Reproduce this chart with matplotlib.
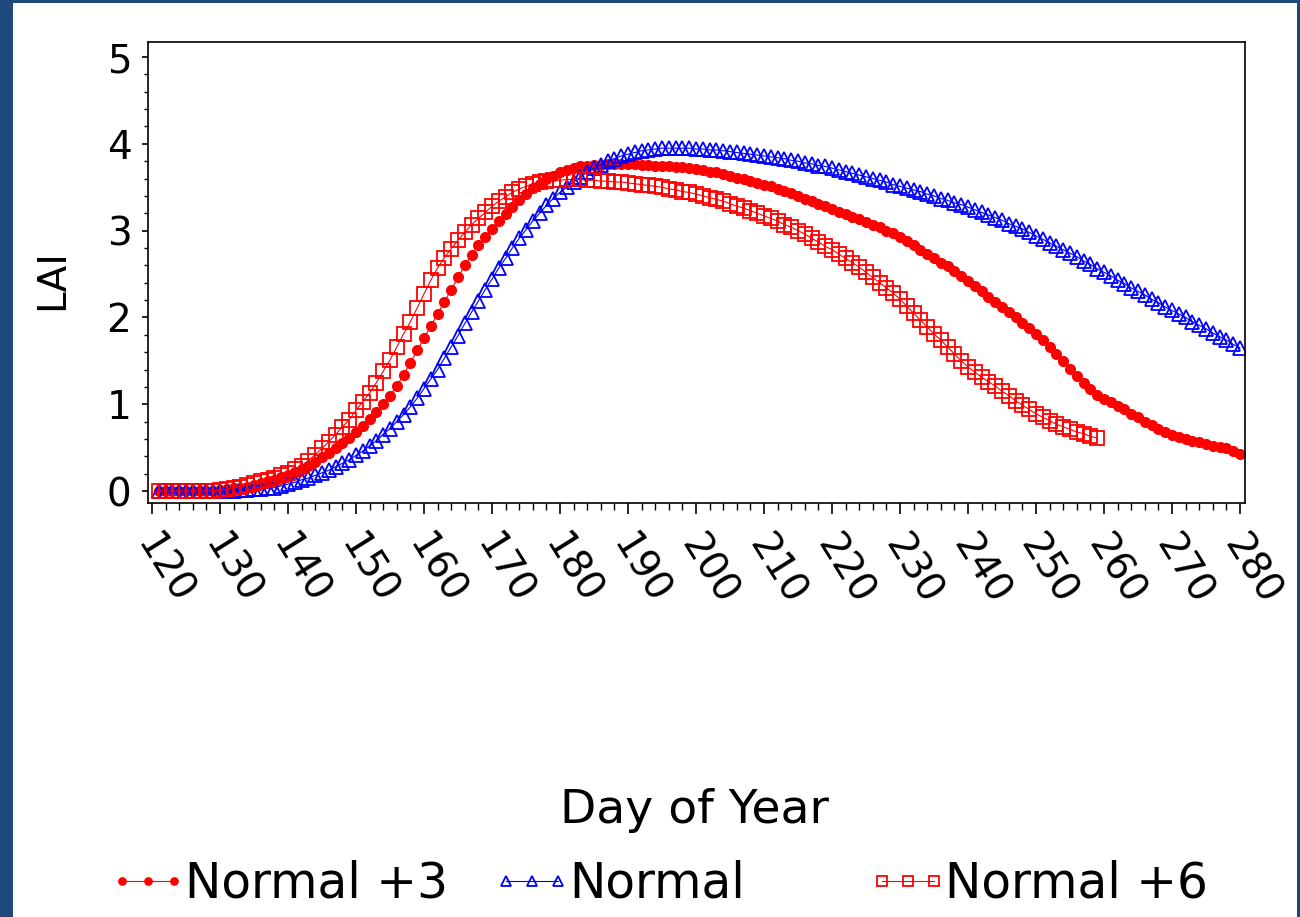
import numpy as np
import matplotlib
matplotlib.use("Agg")
import matplotlib.pyplot as plt
from matplotlib.patches import Rectangle
from matplotlib.ticker import MultipleLocator
from matplotlib.transforms import ScaledTranslation

# LAI by day of year (one value per day)
days_p3 = np.arange(121, 281)
lai_p3 = [
    0.00, 0.00, 0.00, 0.00, 0.00, 0.00, 0.00, 0.00, 0.00,              # 121-129
    0.01, 0.02, 0.03, 0.04, 0.05, 0.07, 0.09, 0.11, 0.13, 0.16,        # 130-139
    0.19, 0.22, 0.25, 0.29, 0.34, 0.39, 0.44, 0.49, 0.55, 0.61,        # 140-149
    0.68, 0.75, 0.83, 0.91, 1.00, 1.10, 1.21, 1.34, 1.48, 1.62,        # 150-159
    1.76, 1.90, 2.04, 2.18, 2.32, 2.46, 2.60, 2.72, 2.83, 2.93,        # 160-169
    3.02, 3.11, 3.19, 3.27, 3.35, 3.42, 3.49, 3.54, 3.59, 3.63,        # 170-179
    3.67, 3.70, 3.72, 3.74, 3.75, 3.76, 3.76, 3.77, 3.77, 3.77,        # 180-189
    3.77, 3.77, 3.76, 3.76, 3.75, 3.75, 3.74, 3.73, 3.73, 3.72,        # 190-199
    3.71, 3.70, 3.68, 3.67, 3.65, 3.63, 3.61, 3.59, 3.57, 3.55,        # 200-209
    3.53, 3.51, 3.48, 3.46, 3.43, 3.40, 3.37, 3.34, 3.31, 3.28,        # 210-219
    3.25, 3.22, 3.19, 3.16, 3.13, 3.10, 3.07, 3.04, 3.00, 2.97,        # 220-229
    2.93, 2.88, 2.83, 2.78, 2.73, 2.68, 2.63, 2.59, 2.53, 2.48,        # 230-239
    2.42, 2.36, 2.30, 2.24, 2.18, 2.12, 2.06, 2.00, 1.94, 1.88,        # 240-249
    1.81, 1.74, 1.66, 1.58, 1.50, 1.41, 1.32, 1.24, 1.17, 1.11,        # 250-259
    1.06, 1.02, 0.98, 0.94, 0.89, 0.85, 0.80, 0.76, 0.72, 0.68,        # 260-269
    0.65, 0.62, 0.60, 0.58, 0.56, 0.54, 0.52, 0.51, 0.49, 0.46,        # 270-279
    0.43,                                                              # 280
]

days_normal = np.arange(121, 281)
lai_normal = [
    0.00, 0.00, 0.00, 0.00, 0.00, 0.00, 0.00, 0.00, 0.00,              # 121-129
    0.00, 0.00, 0.00, 0.01, 0.01, 0.02, 0.02, 0.03, 0.04, 0.06,        # 130-139
    0.08, 0.10, 0.13, 0.15, 0.18, 0.21, 0.24, 0.28, 0.32, 0.36,        # 140-149
    0.41, 0.46, 0.52, 0.58, 0.65, 0.72, 0.80, 0.88, 0.97, 1.07,        # 150-159
    1.18, 1.29, 1.40, 1.53, 1.66, 1.79, 1.93, 2.06, 2.19, 2.32,        # 160-169
    2.44, 2.57, 2.68, 2.80, 2.91, 3.01, 3.11, 3.20, 3.29, 3.37,        # 170-179
    3.44, 3.50, 3.56, 3.62, 3.67, 3.72, 3.76, 3.80, 3.83, 3.86,        # 180-189
    3.88, 3.90, 3.92, 3.93, 3.94, 3.95, 3.95, 3.95, 3.95, 3.95,        # 190-199
    3.94, 3.94, 3.93, 3.93, 3.92, 3.91, 3.90, 3.89, 3.88, 3.87,        # 200-209
    3.86, 3.85, 3.84, 3.83, 3.81, 3.80, 3.78, 3.77, 3.75, 3.74,        # 210-219
    3.72, 3.70, 3.68, 3.66, 3.64, 3.62, 3.60, 3.58, 3.56, 3.53,        # 220-229
    3.51, 3.49, 3.47, 3.45, 3.42, 3.40, 3.37, 3.35, 3.32, 3.30,        # 230-239
    3.27, 3.24, 3.21, 3.18, 3.15, 3.12, 3.08, 3.05, 3.02, 2.98,        # 240-249
    2.94, 2.90, 2.86, 2.82, 2.78, 2.74, 2.70, 2.65, 2.61, 2.56,        # 250-259
    2.52, 2.48, 2.43, 2.39, 2.34, 2.30, 2.26, 2.21, 2.17, 2.12,        # 260-269
    2.08, 2.04, 2.00, 1.95, 1.91, 1.87, 1.82, 1.78, 1.74, 1.69,        # 270-279
    1.65,                                                              # 280
]

days_p6 = np.arange(121, 260)
lai_p6 = [
    0.00, 0.00, 0.00, 0.00, 0.00, 0.00, 0.00, 0.00, 0.00,              # 121-129
    0.01, 0.02, 0.04, 0.05, 0.07, 0.09, 0.11, 0.13, 0.15, 0.18,        # 130-139
    0.21, 0.25, 0.29, 0.35, 0.42, 0.49, 0.57, 0.65, 0.74, 0.82,        # 140-149
    0.93, 1.03, 1.13, 1.25, 1.38, 1.51, 1.66, 1.81, 1.95, 2.11,        # 150-159
    2.27, 2.43, 2.57, 2.69, 2.79, 2.89, 2.98, 3.07, 3.14, 3.21,        # 160-169
    3.28, 3.34, 3.39, 3.44, 3.48, 3.51, 3.54, 3.56, 3.57, 3.58,        # 170-179
    3.58, 3.59, 3.59, 3.59, 3.58, 3.58, 3.57, 3.57, 3.56, 3.56,        # 180-189
    3.55, 3.54, 3.53, 3.52, 3.51, 3.50, 3.48, 3.47, 3.45, 3.44,        # 190-199
    3.42, 3.40, 3.38, 3.36, 3.34, 3.31, 3.28, 3.26, 3.23, 3.20,        # 200-209
    3.17, 3.14, 3.11, 3.07, 3.04, 3.00, 2.96, 2.91, 2.87, 2.82,        # 210-219
    2.78, 2.73, 2.68, 2.63, 2.58, 2.52, 2.46, 2.40, 2.34, 2.28,        # 220-229
    2.21, 2.13, 2.05, 1.97, 1.89, 1.81, 1.74, 1.66, 1.58, 1.50,        # 230-239
    1.43, 1.37, 1.31, 1.26, 1.21, 1.15, 1.10, 1.04, 0.99, 0.94,        # 240-249
    0.89, 0.85, 0.81, 0.77, 0.74, 0.71, 0.68, 0.66, 0.63, 0.61,        # 250-259
]

x_ticks = list(range(120, 281, 10))
y_ticks = [0, 1, 2, 3, 4, 5]

fig = plt.figure(figsize=(13, 9.17), dpi=100, facecolor="#1F497D")
# white panel inside the dark blue frame
fig.patches.append(Rectangle((13 / 1300, 0), 1284 / 1300, 1 - 3 / 917,
                             transform=fig.transFigure, facecolor="white",
                             edgecolor="none", zorder=-10))

ax = fig.add_axes([148 / 1300, 1 - 503 / 917, 1097 / 1300, 461 / 917])
ax.set_zorder(2)

l1, = ax.plot(days_p3, lai_p3, color="red", lw=0.8, marker="o", ms=7,
              mfc="red", mec="red", label="Normal +3")
l2, = ax.plot(days_normal, lai_normal, color="blue", lw=0.8, marker="^", ms=9.5,
              mfc="none", mec="blue", mew=1.3, label="Normal")
l3, = ax.plot(days_p6, lai_p6, color="red", lw=0.8, marker="s", ms=9.5,
              mfc="none", mec="red", mew=1.3, label="Normal +6")

ax.set_xlim(119.41, 280.74)
ax.set_ylim(-0.138, 5.173)
ax.set_xticks(x_ticks)
ax.set_yticks(y_ticks)
ax.xaxis.set_minor_locator(MultipleLocator(2))
ax.yaxis.set_minor_locator(MultipleLocator(0.2))
for s in ax.spines.values():
    s.set_linewidth(1.2)
    s.set_color("black")

ax.tick_params(axis="x", which="major", direction="out", length=8, width=1.2,
               labelsize=28, pad=17)
ax.tick_params(axis="x", which="minor", direction="out", length=5, width=1.0)
ax.tick_params(axis="y", which="major", direction="out", length=4, width=1.2,
               labelsize=28, pad=8)
ax.tick_params(axis="y", which="minor", direction="out", length=3, width=1.0)

shift = ScaledTranslation(-7.6 / 100, 0, fig.dpi_scale_trans)
for lbl in ax.get_xticklabels():
    lbl.set_rotation(-58)
    lbl.set_ha("left")
    lbl.set_va("center")
    lbl.set_rotation_mode("anchor")
    lbl.set_transform(lbl.get_transform() + shift)

ax.set_ylabel("LAI", fontsize=28, va="center")
ax.yaxis.set_label_coords((52 - 148) / 1097, (503 - 280) / 461)
ax.set_xlabel("Day of Year", fontsize=34, va="baseline")
ax.xaxis.set_label_coords((694 - 148) / 1097, (503 - 823) / 461)

legend_x = [107, 491, 867]
for line, lx in zip([l1, l2, l3], legend_x):
    fig.legend([line], [line.get_label()], loc="center left",
               bbox_to_anchor=(lx / 1300, 1 - 884 / 917), frameon=False,
               fontsize=35, borderpad=0, borderaxespad=0, numpoints=3,
               handlelength=1.67, handletextpad=-0.07, markerscale=0.75)

fig.savefig("out.png", dpi=100, facecolor=fig.get_facecolor())
